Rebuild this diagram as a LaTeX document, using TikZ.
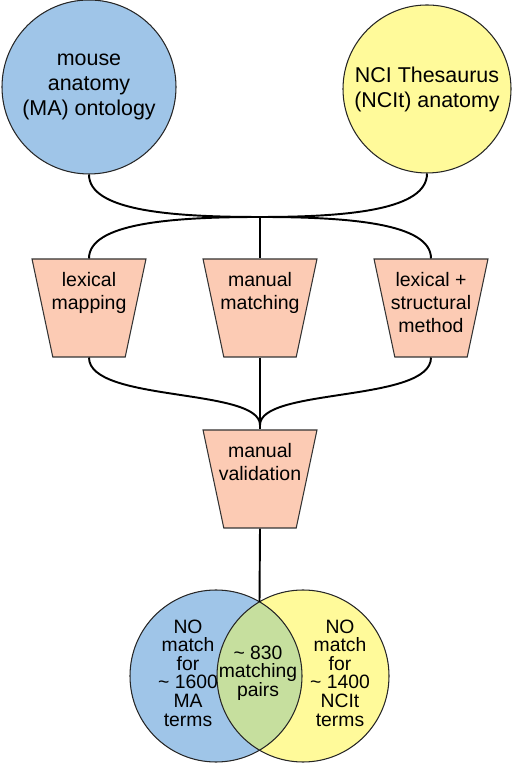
\documentclass[tikz,border=0pt]{standalone}
\usepackage{fontspec}
\setmainfont{Liberation Sans}
\usepackage{xcolor}
\usetikzlibrary{arrows.meta,positioning,shapes.geometric}

\definecolor{mablue}{HTML}{9FC5E8}
\definecolor{nciyellow}{HTML}{FFFA9A}
\definecolor{procpeach}{HTML}{FCCBB4}
\definecolor{matchgreen}{HTML}{C6DF9E}

\begin{document}
\begin{tikzpicture}[
  source/.style={circle, draw=black!85, line width=0.6pt, minimum size=#1, inner sep=0pt,
                 align=center, font=\fontsize{12.2}{14.2}\selectfont},
  procbox/.style={trapezium, trapezium angle=74, trapezium stretches=true,
                  shape border rotate=180, minimum width=2.28cm, minimum height=1.96cm,
                  inner sep=2pt, draw=black!80, line width=0.6pt, fill=procpeach},
  proctext/.style={align=center, inner sep=0pt, anchor=north,
                   font=\fontsize{11.1}{13}\selectfont},
  venntext/.style={align=center, inner sep=0pt, font=\fontsize{11}{10.6}\selectfont},
  flow/.style={line width=1.1pt, black},
]

\useasboundingbox (0,0) rectangle (10.4,15.28);

% === Source ontologies ===
\node[source=3.48cm, fill=mablue] (ma) at (1.78, 13.54)
  {mouse\\anatomy\\(MA) ontology};
\node[source=3.36cm, fill=nciyellow] (ncit) at (8.54, 13.50)
  {NCI Thesaurus\\(NCIt) anatomy};

% === Mapping methods ===
\node[procbox] (lex) at (1.78, 9.12) {};
\node[procbox] (man) at (5.20, 9.12) {};
\node[procbox] (struct) at (8.62, 9.12) {};
\node[proctext] at ([yshift=-0.28cm]lex.north) {lexical\\mapping};
\node[proctext] at ([yshift=-0.28cm]man.north) {manual\\matching};
\node[proctext] at ([yshift=-0.28cm]struct.north) {lexical +\\structural\\method};

% === Validation ===
\node[procbox] (valid) at (5.20, 5.70) {};
\node[proctext] at ([yshift=-0.28cm]valid.north) {manual\\validation};

% === Junctions ===
\coordinate (join) at (5.20, 10.94);
\coordinate (collect) at (5.20, 6.78);

\draw[flow] (ma.south) .. controls +(0,-0.72) and +(-1.8,0) .. (join);
\draw[flow] (ncit.south) .. controls +(0,-0.72) and +(1.8,0) .. (join);
\draw[flow] (join) .. controls +(-1.8,0) and +(0,0.7) .. (lex.north);
\draw[flow] (join) .. controls +(1.8,0) and +(0,0.7) .. (struct.north);
\draw[flow] (join) -- (man.north);

\draw[flow] (lex.south) .. controls +(0,-0.9) and +(0,0.75) .. (collect);
\draw[flow] (struct.south) .. controls +(0,-0.9) and +(0,0.75) .. (collect);
\draw[flow] (man.south) -- (valid.north);

% === Result (Venn) ===
\node[circle, minimum size=3.44cm, fill=mablue] (vma) at (4.32, 1.76) {};
\node[circle, minimum size=3.44cm, fill=nciyellow] (vnci) at (6.06, 1.76) {};
\begin{scope}
  \clip (vma.center) circle[radius=1.72];
  \fill[matchgreen] (vnci.center) circle[radius=1.72];
\end{scope}
\draw[black!85, line width=0.6pt] (vma.center) circle[radius=1.72];
\draw[black!85, line width=0.6pt] (vnci.center) circle[radius=1.72];
\coordinate (lens) at (5.19, 3.24);
\draw[flow] (valid.south) -- (lens);

\node[venntext] (nomatchma) at (3.76, 1.82)
  {NO\\match\\for\\\textasciitilde\ 1600\\MA\\terms};
\node[venntext] (pairs) at (5.16, 1.82)
  {\textasciitilde\ 830\\matching\\pairs};
\node[venntext] (nomatchnci) at (6.80, 1.82)
  {NO\\match\\for\\\textasciitilde\ 1400\\NCIt\\terms};

\end{tikzpicture}
\end{document}
